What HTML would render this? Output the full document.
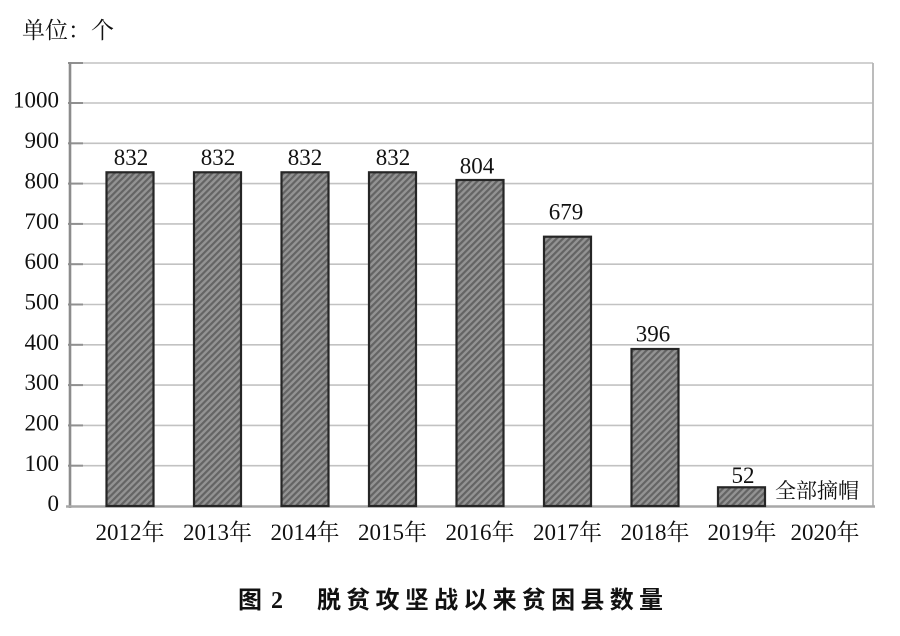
<!DOCTYPE html>
<html>
<head>
<meta charset="utf-8">
<style>
  html, body { margin: 0; padding: 0; background: #ffffff; }
  svg { display: block; }
  .num { font-family: "Liberation Serif", "Noto Serif CJK SC", serif; font-size: 23px; fill: #111; }
  .cjk { font-family: "Liberation Serif", "Noto Serif CJK SC", "Noto Sans CJK SC", serif; fill: #111; }
  .title { font-family: "Liberation Serif", "Noto Sans CJK SC", sans-serif; font-weight: bold; font-size: 24px; fill: #111; }
</style>
</head>
<body>
<svg width="900" height="636" viewBox="0 0 900 636" xmlns="http://www.w3.org/2000/svg">
  <defs>
    <pattern id="hatch" patternUnits="userSpaceOnUse" width="4.6" height="4.6" patternTransform="rotate(45)">
      <rect x="0" y="0" width="4.6" height="4.6" fill="#939393"/>
      <rect x="0" y="0" width="2.2" height="4.6" fill="#646464"/>
    </pattern>
  </defs>
  <rect width="900" height="636" fill="#fff"/>

  <!-- unit -->
  <text x="22" y="38" class="cjk" font-size="23">单位：个</text>

  <!-- gridlines -->
  <g stroke="#c2c2c2" stroke-width="1.6">
    <line x1="70" y1="465.7" x2="873" y2="465.7"/>
    <line x1="70" y1="425.4" x2="873" y2="425.4"/>
    <line x1="70" y1="385.1" x2="873" y2="385.1"/>
    <line x1="70" y1="344.8" x2="873" y2="344.8"/>
    <line x1="70" y1="304.5" x2="873" y2="304.5"/>
    <line x1="70" y1="264.2" x2="873" y2="264.2"/>
    <line x1="70" y1="223.9" x2="873" y2="223.9"/>
    <line x1="70" y1="183.6" x2="873" y2="183.6"/>
    <line x1="70" y1="143.3" x2="873" y2="143.3"/>
    <line x1="70" y1="103" x2="873" y2="103"/>
    <line x1="70" y1="63" x2="873" y2="63"/>
  </g>
  <!-- right border -->
  <line x1="873" y1="63" x2="873" y2="507" stroke="#b5b5b5" stroke-width="1.8"/>

  <!-- tick marks -->
  <g stroke="#909090" stroke-width="2">
    <line x1="68" y1="465.7" x2="83" y2="465.7"/>
    <line x1="68" y1="425.4" x2="83" y2="425.4"/>
    <line x1="68" y1="385.1" x2="83" y2="385.1"/>
    <line x1="68" y1="344.8" x2="83" y2="344.8"/>
    <line x1="68" y1="304.5" x2="83" y2="304.5"/>
    <line x1="68" y1="264.2" x2="83" y2="264.2"/>
    <line x1="68" y1="223.9" x2="83" y2="223.9"/>
    <line x1="68" y1="183.6" x2="83" y2="183.6"/>
    <line x1="68" y1="143.3" x2="83" y2="143.3"/>
    <line x1="68" y1="103" x2="83" y2="103"/>
    <line x1="68" y1="63" x2="83" y2="63"/>
  </g>

  <!-- axes -->
  <line x1="70" y1="62" x2="70" y2="508" stroke="#8c8c8c" stroke-width="2.6"/>
  <line x1="66" y1="506.5" x2="875" y2="506.5" stroke="#a8a8a8" stroke-width="2.6"/>

  <!-- y tick labels -->
  <g class="num" text-anchor="end">
    <text x="59" y="511">0</text>
    <text x="59" y="471">100</text>
    <text x="59" y="430.5">200</text>
    <text x="59" y="390">300</text>
    <text x="59" y="350">400</text>
    <text x="59" y="309.5">500</text>
    <text x="59" y="269">600</text>
    <text x="59" y="229">700</text>
    <text x="59" y="188.5">800</text>
    <text x="59" y="148">900</text>
    <text x="59" y="107.5">1000</text>
  </g>

  <!-- bars -->
  <g fill="url(#hatch)" stroke="#262626" stroke-width="2.2">
    <rect x="106.5" y="172.3" width="47" height="333.7"/>
    <rect x="194" y="172.3" width="47" height="333.7"/>
    <rect x="281.5" y="172.3" width="47" height="333.7"/>
    <rect x="369" y="172.3" width="47" height="333.7"/>
    <rect x="456.5" y="180" width="47" height="326"/>
    <rect x="544" y="236.7" width="47" height="269.3"/>
    <rect x="631.5" y="349" width="47" height="157"/>
    <rect x="718" y="487.3" width="47" height="18.7"/>
  </g>

  <!-- value labels -->
  <g class="num" text-anchor="middle">
    <text x="131" y="165">832</text>
    <text x="218" y="165">832</text>
    <text x="305" y="165">832</text>
    <text x="393" y="165">832</text>
    <text x="477" y="173.5">804</text>
    <text x="566" y="219.5">679</text>
    <text x="653" y="341.5">396</text>
    <text x="743" y="483">52</text>
  </g>
  <text x="775" y="498" class="cjk" font-size="21">全部摘帽</text>

  <!-- x labels -->
  <g class="cjk" font-size="23" text-anchor="middle">
    <text x="130" y="540">2012年</text>
    <text x="217.5" y="540">2013年</text>
    <text x="305" y="540">2014年</text>
    <text x="392.5" y="540">2015年</text>
    <text x="480" y="540">2016年</text>
    <text x="567.5" y="540">2017年</text>
    <text x="655" y="540">2018年</text>
    <text x="742" y="540">2019年</text>
    <text x="825" y="540">2020年</text>
  </g>

  <!-- title -->
  <text x="238" y="608" class="title">图</text>
  <text x="271" y="608" class="title">2</text>
  <text x="317" y="608" class="title" textLength="346" lengthAdjust="spacing">脱贫攻坚战以来贫困县数量</text>
</svg>
</body>
</html>
